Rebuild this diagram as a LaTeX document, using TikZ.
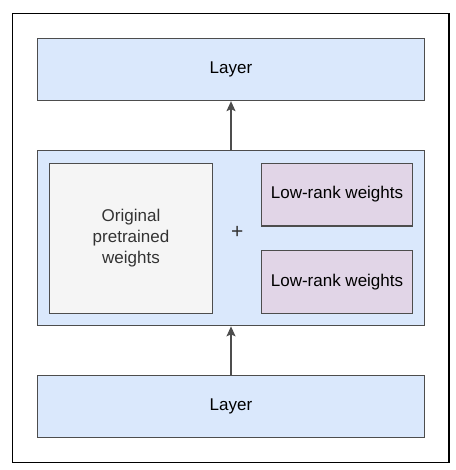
\documentclass[tikz,border=0pt]{standalone}
\usepackage{fontspec}
\setmainfont{Liberation Sans}
\usetikzlibrary{arrows.meta}
\definecolor{bluefill}{HTML}{DAE8FC}
\definecolor{grayfill}{HTML}{F5F5F5}
\definecolor{purplefill}{HTML}{E1D5E7}
\definecolor{edge}{HTML}{4D4D4D}
\definecolor{txtgray}{HTML}{333333}
\begin{document}
\begin{tikzpicture}[x=1pt,y=-1pt,
  box/.style={draw=edge, line width=1.3pt, inner sep=0pt, font=\fontsize{17}{21}\selectfont, align=center},
  layerbox/.style={box, fill=bluefill, minimum width=387pt, minimum height=62pt},
  lowbox/.style={box, fill=purplefill, minimum width=150.5pt, minimum height=62.5pt},
  origbox/.style={box, fill=grayfill, minimum width=162.5pt, minimum height=150pt, text=txtgray},
  conn/.style={draw=edge, line width=1.3pt, -{Stealth[length=10pt,width=9pt,inset=2pt]}}
]
\useasboundingbox (0,0) rectangle (455,470);
\node[draw=black, line width=1.3pt, minimum width=436.5pt, minimum height=449pt, inner sep=0pt] (frame) at (230.75,238) {};
\node[layerbox] (top) at (231,69.5) {Layer};
\node[box, fill=bluefill, minimum width=387pt, minimum height=175pt] (mid) at (231,238.2) {};
\node[origbox] (orig) at (131,238.3) {Original\\pretrained\\weights};
\node[lowbox] (low1) at (337,194.6) {Low-rank weights};
\node[lowbox] (low2) at (337,282) {Low-rank weights};
\node[font=\fontsize{21}{24}\selectfont, text=txtgray] (plus) at (237.3,232.7) {+};
\node[layerbox] (bot) at (231,406.7) {Layer};
\draw[conn] (mid.north -| top.south) -- (top.south);
\draw[conn] (bot.north) -- (mid.south);
\end{tikzpicture}
\end{document}
